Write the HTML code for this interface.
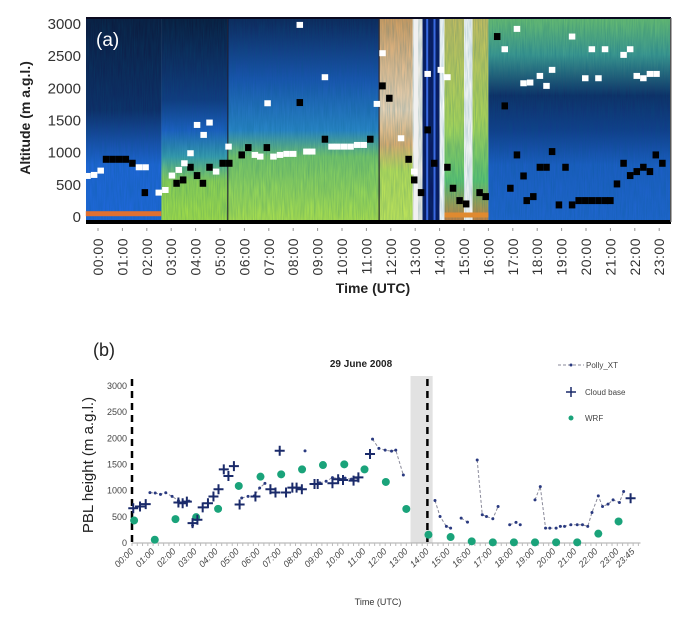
<!DOCTYPE html>
<html><head><meta charset="utf-8">
<style>
html,body{margin:0;padding:0;background:#fff;width:686px;height:622px;overflow:hidden}
svg{display:block}
text{font-family:"Liberation Sans",sans-serif}
</style></head>
<body>
<svg id="fig" width="686" height="622" viewBox="0 0 686 622">
<defs>
<linearGradient id="gA" x1="0" y1="0" x2="0" y2="1"><stop offset="0" stop-color="#0b1a3c"/><stop offset="0.45" stop-color="#0f2c66"/><stop offset="0.62" stop-color="#1a52b0"/><stop offset="0.72" stop-color="#1f66d6"/><stop offset="1" stop-color="#2068dc"/></linearGradient>
<linearGradient id="gB" x1="0" y1="0" x2="0" y2="1"><stop offset="0" stop-color="#0a1a3a"/><stop offset="0.4" stop-color="#123a80"/><stop offset="0.55" stop-color="#1d60c2"/><stop offset="0.68" stop-color="#3aa0b0"/><stop offset="0.8" stop-color="#8fd454"/><stop offset="1" stop-color="#a6e046"/></linearGradient>
<linearGradient id="gC" x1="0" y1="0" x2="0" y2="1"><stop offset="0" stop-color="#0e2658"/><stop offset="0.3" stop-color="#1a55b0"/><stop offset="0.55" stop-color="#2a86c8"/><stop offset="0.68" stop-color="#78c868"/><stop offset="1" stop-color="#b0e44c"/></linearGradient>
<linearGradient id="gD" x1="0" y1="0" x2="0" y2="1"><stop offset="0" stop-color="#d8a060"/><stop offset="0.45" stop-color="#f0d8b8"/><stop offset="0.62" stop-color="#e0b070"/><stop offset="0.75" stop-color="#b8e058"/><stop offset="1" stop-color="#c4e858"/></linearGradient>
<linearGradient id="gG" x1="0" y1="0" x2="0" y2="1"><stop offset="0" stop-color="#c8c060"/><stop offset="0.5" stop-color="#b0d858"/><stop offset="0.8" stop-color="#60c870"/><stop offset="1" stop-color="#d08040"/></linearGradient>
<linearGradient id="gH" x1="0" y1="0" x2="0" y2="1"><stop offset="0" stop-color="#6cc070"/><stop offset="0.18" stop-color="#3e9a90"/><stop offset="0.38" stop-color="#0f2e66"/><stop offset="0.55" stop-color="#123e8c"/><stop offset="0.72" stop-color="#1c5ec4"/><stop offset="1" stop-color="#2066d0"/></linearGradient>
<filter id="noise" x="0" y="0" width="1" height="1"><feTurbulence type="fractalNoise" baseFrequency="0.9 0.05" numOctaves="2" seed="3"/><feColorMatrix values="0 0 0 0 0  0 0 0 0 0.1  0 0 0 0 0.2  0 0 0 0.5 -0.1"/></filter>
</defs>
<g id="panelA"></g>
<g id="panelB"></g>
</svg>
<script>
// ---------- Panel (a) data ----------
const aHours = ["00:00","01:00","02:00","03:00","04:00","05:00","06:00","07:00","08:00","09:00","10:00","11:00","12:00","13:00","14:00","15:00","16:00","17:00","18:00","19:00","20:00","21:00","22:00","23:00"];
const aYTicks = [0,500,1000,1500,2000,2500,3000];
const blackT = [0.32,0.59,0.86,1.13,1.40,1.91,3.21,3.48,3.78,4.05,4.29,4.56,5.10,5.37,5.88,6.15,6.91,8.26,9.29,11.15,11.65,11.93,12.72,12.95,13.23,13.5,13.77,14.31,14.54,14.81,15.08,15.63,15.88,16.35,16.66,16.89,17.16,17.43,17.56,17.83,18.1,18.37,18.6,18.88,19.15,19.42,19.69,19.96,20.23,20.5,20.77,20.99,21.26,21.53,21.8,22.07,22.34,22.61,22.85,23.12];
const blackAlt = [897,897,897,897,835,379,524,576,773,644,524,773,835,835,965,1079,1079,1779,1209,1209,2038,1846,897,576,379,1354,835,773,447,255,203,379,317,2805,1727,447,965,638,255,317,773,773,1017,188,773,188,255,255,255,255,255,255,514,835,644,706,773,706,965,835];
const whiteT = [-0.44,-0.17,0.10,1.67,1.94,2.48,2.75,3.02,3.30,3.53,3.78,4.05,4.32,4.56,4.83,5.34,6.42,6.64,6.94,7.18,7.45,7.72,7.99,8.26,8.53,8.77,9.29,9.56,9.8,10.07,10.34,10.61,10.88,11.42,11.65,12.41,12.95,13.5,14.04,14.31,16.66,17.16,17.43,17.7,18.1,18.37,18.6,19.42,19.96,20.23,20.5,20.77,21.53,21.8,22.07,22.34,22.61,22.88];
const whiteAlt = [638,654,721,773,773,379,420,644,732,835,991,1431,1276,1468,706,1094,965,939,1768,939,965,981,981,2986,1017,1017,2173,1094,1094,1094,1094,1120,1120,1758,2546,1224,706,2224,2287,2173,2608,2924,2079,2090,2193,2038,2287,2805,2157,2608,2157,2608,2520,2608,2193,2157,2224,2224];

// ---------- Panel (b) data ----------
const bHours = ["00:00","01:00","02:00","03:00","04:00","05:00","06:00","07:00","08:00","09:00","10:00","11:00","12:00","13:00","14:00","15:00","16:00","17:00","18:00","19:00","20:00","21:00","22:00","23:00","23:45"];
const bHourVals = [0,1,2,3,4,5,6,7,8,9,10,11,12,13,14,15,16,17,18,19,20,21,22,23,23.75];
const bYTicks = [0,500,1000,1500,2000,2500,3000];
const cloudT = [0.06,0.38,0.65,2.2,2.4,2.6,2.87,3.1,3.35,3.6,3.86,4.1,4.35,4.57,4.83,5.1,5.85,6.56,6.8,7.0,7.3,7.6,7.8,8.05,8.65,8.8,9.5,9.77,10.0,10.5,10.73,11.28,23.63];
const cloudV = [665,697,742,775,760,790,380,444,680,760,888,1027,1408,1280,1470,735,888,1027,964,1763,964,1059,1059,1027,1128,1128,1141,1217,1205,1192,1255,1700,856];
// Polly_XT segments (each segment drawn as a dashed connected run)
const pollyT = [[0.85,1.1,1.35,1.6,1.9,2.2,2.45,2.7],[2.87],[5.2,5.5,5.8,6.05,6.3],[8.2],[8.9,9.2,9.5,9.8,10.1,10.4,10.7],[11.4,11.7,12.0,12.3,12.5,12.86],[14.36,14.6,14.9,15.1],[15.6,15.9],[16.36,16.6,16.8,17.1,17.35],[17.9,18.2,18.4],[19.1,19.35,19.6,19.8,20.1,20.3,20.5,20.8,21.1,21.35,21.6,21.8,22.1,22.3,22.56,22.8,23.1,23.3]];
const pollyV = [[963,955,930,960,890,810,780,800],[335],[860,890,900,1050,1140],[1760],[1150,1180,1250,1230,1240,1220,1240],[1985,1807,1775,1755,1775,1300],[811,507,317,285],[475,400],[1585,539,507,463,697],[349,393,349],[824,1078,285,285,285,317,317,349,349,349,317,583,900,697,742,824,773,983]];
const wrfT = [0.1,1.08,2.06,3.04,4.08,5.06,6.09,7.07,8.06,9.05,10.06,11.02,12.03,13.0,14.05,15.1,16.1,17.1,18.1,19.1,20.1,21.1,22.1,23.06];
const wrfV = [431,63,456,494,653,1090,1268,1312,1407,1490,1503,1407,1166,650,158,114,32,13,13,13,13,13,178,412];

const NS="http://www.w3.org/2000/svg";
function mk(parent,tag,attrs,txt){const e=document.createElementNS(NS,tag);for(const k in attrs)e.setAttribute(k,attrs[k]);if(txt!==undefined)e.textContent=txt;parent.appendChild(e);return e;}

// ===== Panel A =====
const A=document.getElementById('panelA');
const ax=h=>98+h*24.4, ay=v=>217-v*(193/3000);
const L=86,R=671,T=18,B=222;
const regions=[[-0.5,2.6,'gA'],[2.6,5.3,'gB'],[5.3,11.5,'gC'],[11.5,12.9,'gD'],[12.9,13.3,null,'#f4f0e8'],[13.3,14.0,null,'#0a1860'],[14.0,14.2,null,'#ffffff'],[14.2,15.0,'gG'],[15.0,15.35,null,'#fbfbf8'],[15.35,16.0,'gG'],[16.0,23.6,'gH']];
let bg=mk(A,'g',{});


regions.forEach(r=>{const x1=Math.max(L,ax(r[0])),x2=Math.min(R,ax(r[1]));mk(bg,'rect',{x:x1,y:T,width:x2-x1,height:B-T,fill:r[2]?'url(#'+r[2]+')':r[3]});});
mk(bg,'rect',{x:L,y:T,width:R-L,height:B-T,filter:'url(#noise)',opacity:0.8});
// special stripes
mk(bg,'rect',{x:ax(13.45),y:T,width:2,height:B-T,fill:'#3a6ae0'});
mk(bg,'rect',{x:ax(13.75),y:T,width:2,height:B-T,fill:'#3a6ae0'});
mk(bg,'rect',{x:ax(12.95),y:T,width:4,height:B-T,fill:'#f0f0f0'});
mk(bg,'rect',{x:ax(-0.5),y:ay(90),width:ax(2.6)-L,height:5,fill:'#e07030'});
mk(bg,'rect',{x:ax(14.2),y:ay(70),width:ax(16)-ax(14.2),height:5,fill:'#e08a30'});
mk(bg,'rect',{x:ax(5.3),y:T,width:1,height:B-T,fill:'#0a0a20'});
mk(bg,'rect',{x:ax(11.5),y:T,width:1,height:B-T,fill:'#0a0a20'});
mk(bg,'rect',{x:L,y:B-2,width:R-L,height:4,fill:'#000'});
mk(bg,'rect',{x:L,y:T-1,width:R-L,height:2,fill:'#0a0a20'});
mk(bg,'rect',{x:R-1,y:T,width:1.5,height:B-T,fill:'#555'});
// markers
blackT.forEach((t,i)=>{const m=mk(A,'rect',{x:ax(t)-3,y:ay(blackAlt[i])-3.5,width:6.5,height:7,fill:'#000'});

});
whiteT.forEach((t,i)=>{const m=mk(A,'rect',{x:ax(t)-3,y:ay(whiteAlt[i])-3,width:6.5,height:6,fill:'#fff'});

});
let lab=mk(A,'text',{x:96,y:46,fill:'#fff','font-size':19},'(a)');


aYTicks.forEach(v=>{const t=mk(A,'text',{x:81,y:ay(v)+5,'text-anchor':'end','font-size':15,fill:'#333'},v);

});
for(let h=0;h<24;h++){mk(A,'line',{x1:ax(h),x2:ax(h),y1:228,y2:231,stroke:'#999'});
const t=mk(A,'text',{x:0,y:0,transform:`translate(${ax(h)+5},238) rotate(-90)`,'text-anchor':'end','font-size':14,fill:'#333','letter-spacing':'0.5'},aHours[h]);

}
let xt=mk(A,'text',{x:373,y:293,'text-anchor':'middle','font-size':14,'font-weight':'bold',fill:'#222'},'Time (UTC)');


let yt=mk(A,'text',{x:0,y:0,transform:'translate(30,118) rotate(-90)','text-anchor':'middle','font-size':14,'font-weight':'bold',fill:'#222'},'Altitude  (m a.g.l.)');



// ===== Panel B =====
const P=document.getElementById('panelB');
const bx=h=>132+h*21.1, by=v=>543-v*(157/3000);
let sh=mk(P,'rect',{x:bx(13.2),y:376,width:bx(14.25)-bx(13.2),height:167,fill:'#e2e2e2'});


[0,14].forEach(h=>{const l=mk(P,'line',{x1:bx(h),x2:bx(h),y1:379,y2:543,stroke:'#000','stroke-width':2.5,'stroke-dasharray':'7,5'});

});
mk(P,'line',{x1:bx(0),x2:bx(24.1),y1:543,y2:543,stroke:'#aaa','stroke-width':1});
for(let q=0;q<=96;q++){mk(P,'line',{x1:bx(q/4),x2:bx(q/4),y1:543,y2:546,stroke:'#bbb'});}
bYTicks.forEach(v=>{const t=mk(P,'text',{x:127,y:by(v)+3,'text-anchor':'end','font-size':9,fill:'#444'},v);

});
bHourVals.forEach((h,i)=>{const t=mk(P,'text',{x:0,y:0,transform:`translate(${bx(h)+2},552) rotate(-45)`,'text-anchor':'end','font-size':9,fill:'#444','font-style':'italic'},bHours[i]);

});
// Polly segments
pollyT.forEach((seg,s)=>{const pts=seg.map((t,i)=>bx(t)+','+by(pollyV[s][i])).join(' ');
const pl=mk(P,'polyline',{points:pts,fill:'none',stroke:'#8a8a9a','stroke-width':1,'stroke-dasharray':'3,2'});


seg.forEach((t,i)=>{const c=mk(P,'circle',{cx:bx(t),cy:by(pollyV[s][i]),r:1.5,fill:'#2a3a80'});

});});
wrfT.forEach((t,i)=>{const c=mk(P,'circle',{cx:bx(t),cy:by(wrfV[i]),r:4,fill:'#1aa37a'});

});
cloudT.forEach((t,i)=>{const x=bx(t),y=by(cloudV[i]);
const p=mk(P,'path',{d:`M${x-5},${y}H${x+5}M${x},${y-5}V${y+5}`,stroke:'#1a2a6a','stroke-width':2});

});
let lb=mk(P,'text',{x:93,y:356,'font-size':18,fill:'#222'},'(b)');


let ti=mk(P,'text',{x:361,y:367,'text-anchor':'middle','font-size':10,'font-weight':'bold',fill:'#222'},'29 June 2008');


let byt=mk(P,'text',{x:0,y:0,transform:'translate(93,465) rotate(-90)','text-anchor':'middle','font-size':15,fill:'#222'},'PBL height (m a.g.l.)');


let bxt=mk(P,'text',{x:378,y:605,'text-anchor':'middle','font-size':9,fill:'#333'},'Time (UTC)');


// legend
const lg=mk(P,'g',{});


mk(lg,'line',{x1:558,x2:584,y1:365,y2:365,stroke:'#8a8a9a','stroke-dasharray':'3,2'});
mk(lg,'circle',{cx:571,cy:365,r:1.5,fill:'#2a3a80'});
mk(lg,'text',{x:586,y:368,'font-size':8,fill:'#444'},'Polly_XT');
mk(lg,'path',{d:'M566,392H576M571,387V397',stroke:'#1a2a6a','stroke-width':1.5});
mk(lg,'text',{x:585,y:395,'font-size':8,fill:'#444'},'Cloud base');
mk(lg,'circle',{cx:571,cy:418,r:2.5,fill:'#1aa37a'});
mk(lg,'text',{x:585,y:421,'font-size':8,fill:'#444'},'WRF');
</script>
</body></html>
